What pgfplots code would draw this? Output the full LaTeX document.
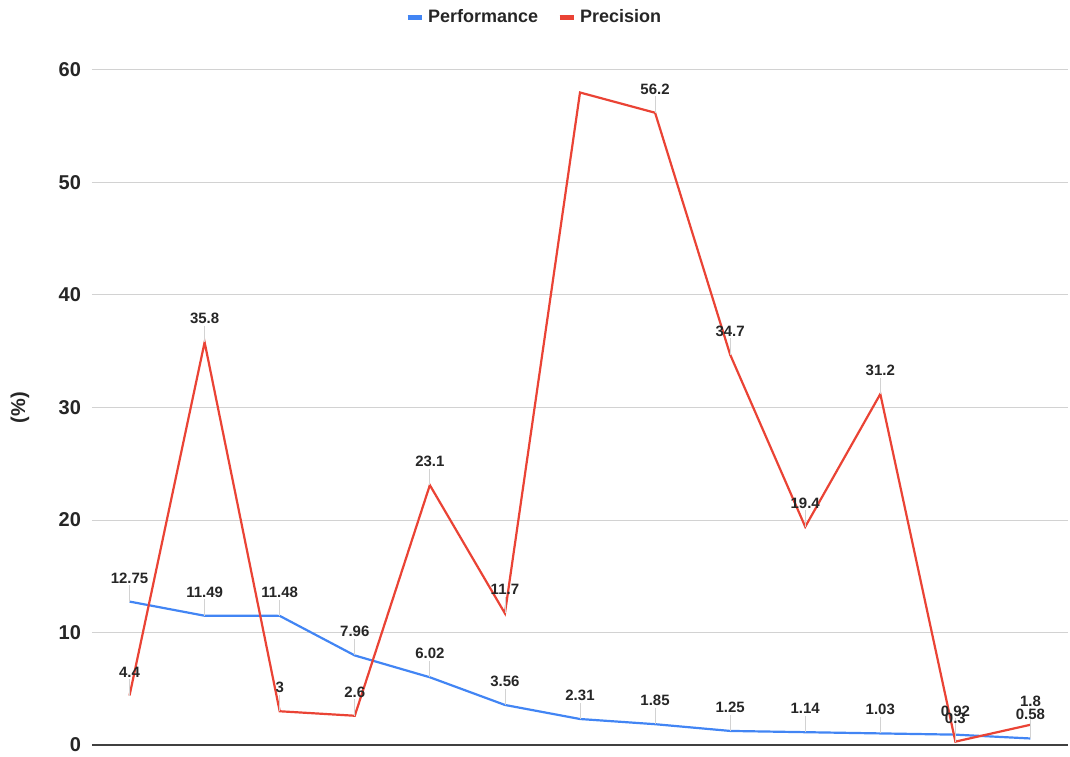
\documentclass[border=0pt]{standalone}
\usepackage{fontspec}
\setmainfont{Liberation Sans}
\usepackage{pgfplots}
\pgfplotsset{compat=1.18}
\definecolor{perf}{HTML}{4285F4}
\definecolor{prec}{HTML}{EA4335}

% value labels, each with a faint leader line up from the point
\pgfplotsset{
  valuelabels/.style={
    forget plot, draw=none, mark=none, point meta=y,
    error bars/.cd, y dir=plus, y fixed=1.45, error mark=none,
      error bar style={draw=gray!35, line width=0.4pt},
    /pgfplots/.cd,
    nodes near coords={\pgfmathprintnumber[fixed,precision=2,assume math mode=true]{\pgfplotspointmeta}},
    every node near coord/.append style={
      font=\bfseries\fontsize{7.5}{9}\selectfont, text=black!85,
      anchor=south, yshift=8pt, inner sep=1pt
    }
  }
}

\begin{document}
\begin{tikzpicture}
\useasboundingbox (-46pt,-5.5pt) rectangle (489pt,372.5pt);
\begin{axis}[
  at={(0,0)}, anchor=south west,
  scale only axis, width=488pt, height=337.5pt,
  xmin=-0.5, xmax=12.5, ymin=0, ymax=60,
  ytick={0,10,...,60}, xtick=\empty,
  ymajorgrids, grid style={gray!35, line width=0.5pt},
  separate axis lines,
  axis x line*=bottom, axis y line*=left,
  y axis line style={draw=none},
  x axis line style={draw=black!75, line width=0.8pt},
  major tick length=0pt,
  /pgf/number format/assume math mode=true,
  yticklabel style={font=\bfseries\fontsize{10}{12}\selectfont, text=black!85, xshift=-2pt},
  ylabel={(\%)},
  every axis y label/.style={at={(axis description cs:-0.0738,0.5)}, rotate=90, anchor=center,
    font=\bfseries\fontsize{10}{12}\selectfont, text=black!85},
  clip=false,
  legend columns=-1,
  legend style={at={(axis description cs:0.454,1.0785)}, anchor=center, draw=none, fill=none,
    font=\bfseries\fontsize{9}{11}\selectfont, text=black!85,
    /tikz/every even column/.append style={column sep=7.5pt}},
  legend image code/.code={\draw[line width=2.5pt] (0pt,0pt) -- (7pt,0pt);},
]
\addplot[perf, line width=1.1pt, mark=none] coordinates {
  (0,12.75) (1,11.49) (2,11.48) (3,7.96) (4,6.02) (5,3.56) (6,2.31)
  (7,1.85) (8,1.25) (9,1.14) (10,1.03) (11,0.92) (12,0.58)};
\addlegendentry{Performance}
\addplot[prec, line width=1.1pt, mark=none] coordinates {
  (0,4.4) (1,35.8) (2,3) (3,2.6) (4,23.1) (5,11.7) (6,58.0)
  (7,56.2) (8,34.7) (9,19.4) (10,31.2) (11,0.3) (12,1.8)};
\addlegendentry{Precision}

\addplot[valuelabels] coordinates {
  (0,12.75) (1,11.49) (2,11.48) (3,7.96) (4,6.02) (5,3.56) (6,2.31)
  (7,1.85) (8,1.25) (9,1.14) (10,1.03) (11,0.92) (12,0.58)};
\addplot[valuelabels] coordinates {
  (0,4.4) (1,35.8) (2,3) (3,2.6) (4,23.1) (5,11.7)
  (7,56.2) (8,34.7) (9,19.4) (10,31.2) (11,0.3) (12,1.8)};
\end{axis}
\end{tikzpicture}
\end{document}
